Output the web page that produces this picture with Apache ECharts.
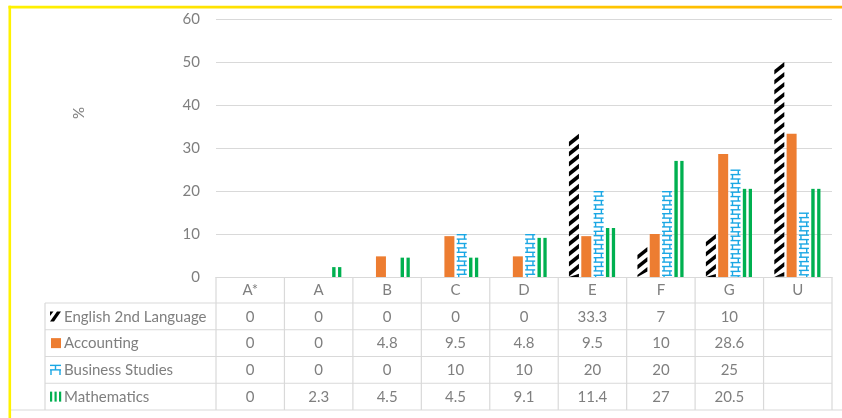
<!DOCTYPE html>
<html>
<head>
<meta charset="utf-8">
<script src="https://cdn.jsdelivr.net/npm/echarts@6/dist/echarts.min.js"></script>
<style>
  html, body { margin: 0; padding: 0; background: #fff; }
  #chart { width: 842px; height: 418px; }
</style>
</head>
<body>
<div id="chart"></div>
<script>
// Grade distribution per subject (% of candidates)
const grades = ['A*', 'A', 'B', 'C', 'D', 'E', 'F', 'G', 'U'];
const english = [0, 0, 0, 0, 0, 33.3, 7, 10, 50];
const accounting = [0, 0, 4.8, 9.5, 4.8, 9.5, 10, 28.6, 33.3];
const business = [0, 0, 0, 10, 10, 20, 20, 25, 15];
const maths = [0, 2.3, 4.5, 4.5, 9.1, 11.4, 27, 20.5, 20.5];
const subjects = ['English 2nd Language', 'Accounting', 'Business Studies', 'Mathematics'];
const yTicks = [0, 10, 20, 30, 40, 50, 60];
// grades whose values are written out in the data table (U is left blank)
const tabulated = [true, true, true, true, true, true, true, true, false];

const FONT = 'Lato, "Open Sans", sans-serif';
const GREY_TEXT = '#7f7f7f';
const LINE = '#d9d9d9';
const ORANGE = '#ED7D31';
const BLUE = '#1AA7E4';
const GREEN = '#00B050';

const chart = echarts.init(document.getElementById('chart'), null, { renderer: 'canvas' });

// bar geometry inside each category band
const BAR_W = 0.146, STEP = 0.18;
function barBox(params, api) {
  const v = api.value(1);
  if (!v) return null;
  const i = api.value(0);
  const band = api.size([1, 0])[0];
  const base = api.coord([i, 0]);
  const top = api.coord([i, v]);
  const w = band * BAR_W, step = band * STEP;
  const x = base[0] - 1.5 * step - w / 2 + params.seriesIndex * step;
  return { x: x, y: top[1], w: w, h: base[1] - top[1] };
}

// black upward-diagonal dashes on white
function renderEnglish(params, api) {
  const b = barBox(params, api);
  if (!b) return null;
  const period = 10, rise = 8, thick = 4.6;
  const lo = b.y, hi = b.y + b.h;
  const clamp = y => Math.min(Math.max(y, lo), hi);
  const children = [];
  for (let yb = b.y + rise + thick; yb - rise - thick < hi; yb += period) {
    const pts = [
      [b.x, yb], [b.x + b.w, yb - rise], [b.x + b.w, yb - rise - thick], [b.x, yb - thick]
    ].map(p => [p[0], clamp(p[1])]);
    children.push({ type: 'polygon', shape: { points: pts }, style: { fill: '#000' } });
  }
  return { type: 'group', children: children };
}

function renderAccounting(params, api) {
  const b = barBox(params, api);
  if (!b) return null;
  return { type: 'rect', shape: { x: b.x, y: b.y, width: b.w, height: b.h }, style: { fill: ORANGE } };
}

// blue brick outline
function renderBusiness(params, api) {
  const b = barBox(params, api);
  if (!b) return null;
  const gap = 4.4, children = [];
  const st = { stroke: BLUE, lineWidth: 1.4 };
  let k = 0;
  for (let y = b.y + 0.7; y <= b.y + b.h; y += gap, k++) {
    children.push({ type: 'line', shape: { x1: b.x, y1: y, x2: b.x + b.w, y2: y }, style: st });
    const y2 = Math.min(y + gap, b.y + b.h);
    const vx = k % 2 === 0 ? b.x + b.w - 2.2 : b.x + 2;
    children.push({ type: 'line', shape: { x1: vx, y1: y, x2: vx, y2: y2 }, style: st });
  }
  return { type: 'group', children: children };
}

// two green vertical stripes
function renderMaths(params, api) {
  const b = barBox(params, api);
  if (!b) return null;
  const s = b.w / 10;
  return {
    type: 'group',
    children: [
      { type: 'rect', shape: { x: b.x, y: b.y, width: 3.4 * s, height: b.h }, style: { fill: GREEN } },
      { type: 'rect', shape: { x: b.x + 5.9 * s, y: b.y, width: 3.3 * s, height: b.h }, style: { fill: GREEN } }
    ]
  };
}

const seriesData = [english, accounting, business, maths];
const renderers = [renderEnglish, renderAccounting, renderBusiness, renderMaths];

chart.setOption({
  animation: false,
  grid: { left: 216, right: 10, top: 19, bottom: 141 },
  xAxis: {
    type: 'category',
    data: grades,
    axisLine: { show: true, lineStyle: { color: LINE } },
    axisTick: { show: false },
    axisLabel: { show: false },
    splitLine: { show: false }
  },
  yAxis: {
    type: 'value',
    min: yTicks[0],
    max: yTicks[yTicks.length - 1],
    interval: yTicks[1] - yTicks[0],
    axisLine: { show: false },
    axisTick: { show: false },
    axisLabel: { color: GREY_TEXT, fontSize: 15, fontFamily: FONT, margin: 16 },
    splitLine: { lineStyle: { color: LINE, width: 1 } }
  },
  series: seriesData.map((arr, s) => ({
    type: 'custom',
    name: subjects[s],
    renderItem: renderers[s],
    encode: { x: 0, y: 1 },
    data: arr.map((v, i) => [i, v])
  }))
});

// data table, legend keys and chart frame
function buildGraphics() {
  const c0 = chart.convertToPixel({ xAxisIndex: 0 }, 0);
  const c1 = chart.convertToPixel({ xAxisIndex: 0 }, 1);
  const band = c1 - c0;
  const xStart = c0 - band / 2;
  const xEnd = xStart + band * grades.length;
  const yTop = chart.convertToPixel({ yAxisIndex: 0 }, 0);
  const headerH = 26;
  const rowH = 26.75;
  const labelLeft = 45;
  const yRows = [yTop + headerH];
  for (let r = 1; r <= subjects.length; r++) yRows.push(yTop + headerH + r * rowH);
  const yBottom = yRows[yRows.length - 1];

  const g = [];
  const ln = (x1, y1, x2, y2, color, w) => g.push({
    type: 'line', silent: true,
    shape: { x1: x1, y1: y1, x2: x2, y2: y2 },
    style: { stroke: color || LINE, lineWidth: w || 1.2 }
  });
  const txt = (t, x, y, align) => g.push({
    type: 'text', silent: true,
    style: {
      text: t, x: x, y: y, fill: GREY_TEXT, font: '15px ' + FONT,
      align: align || 'center', verticalAlign: 'middle',
      textAlign: align || 'center', textVerticalAlign: 'middle'
    }
  });

  // column separators
  for (let i = 0; i <= grades.length; i++) {
    const x = xStart + i * band;
    ln(x, yTop, x, yBottom);
  }
  // row separators
  for (let r = 0; r < yRows.length - 1; r++) ln(labelLeft, yRows[r], xEnd, yRows[r]);
  ln(11, yBottom, 842, yBottom);
  ln(labelLeft, yRows[0], labelLeft, yBottom);

  // header
  grades.forEach((gr, i) => txt(gr, xStart + (i + 0.5) * band, yTop + headerH / 2 + 0.5));
  // values
  seriesData.forEach((arr, r) => {
    const yc = (yRows[r] + yRows[r + 1]) / 2 + 0.5;
    arr.forEach((v, i) => {
      if (tabulated[i]) txt(String(v), xStart + (i + 0.5) * band, yc);
    });
    txt(subjects[r], 64, yc, 'left');
  });

  // legend keys
  const kc = r => (yRows[r] + yRows[r + 1]) / 2;
  let y = kc(0);
  g.push({ type: 'polygon', silent: true, shape: { points: [[50, y + 5], [57, y - 5], [61, y - 5], [54, y + 5]] }, style: { fill: '#000' } });
  g.push({ type: 'polygon', silent: true, shape: { points: [[50, y - 5], [53.5, y - 5], [50, y - 0.5]] }, style: { fill: '#000' } });
  y = kc(1);
  g.push({ type: 'rect', silent: true, shape: { x: 51, y: y - 5, width: 10, height: 10 }, style: { fill: ORANGE } });
  y = kc(2);
  const bs = { stroke: BLUE, lineWidth: 1.4 };
  [[50, y - 4.5, 61, y - 4.5], [55.5, y - 4.5, 55.5, y], [50, y, 61, y], [51, y, 51, y + 5], [60, y, 60, y + 5]]
    .forEach(p => g.push({ type: 'line', silent: true, shape: { x1: p[0], y1: p[1], x2: p[2], y2: p[3] }, style: bs }));
  y = kc(3);
  [50, 54.5, 59].forEach(x => g.push({ type: 'rect', silent: true, shape: { x: x, y: y - 5, width: 2.2, height: 10 }, style: { fill: GREEN } }));

  // axis title
  g.push({
    type: 'text', silent: true, x: 79, y: 113, rotation: Math.PI / 2,
    style: { text: '%', fill: GREY_TEXT, font: '15px ' + FONT, align: 'center', verticalAlign: 'middle', textAlign: 'center', textVerticalAlign: 'middle' }
  });

  // frame
  g.push({ type: 'rect', silent: true, shape: { x: 8.5, y: 5.8, width: 834, height: 2.6 },
    style: { fill: new echarts.graphic.LinearGradient(0, 0, 1, 0, [
      { offset: 0, color: '#FFF200' }, { offset: 1, color: '#FFB400' }
    ]) } });
  g.push({ type: 'rect', silent: true, shape: { x: 8.5, y: 5.8, width: 2.6, height: 413 }, style: { fill: '#FFF200' } });

  chart.setOption({ graphic: g });
}
buildGraphics();
</script>
</body>
</html>
